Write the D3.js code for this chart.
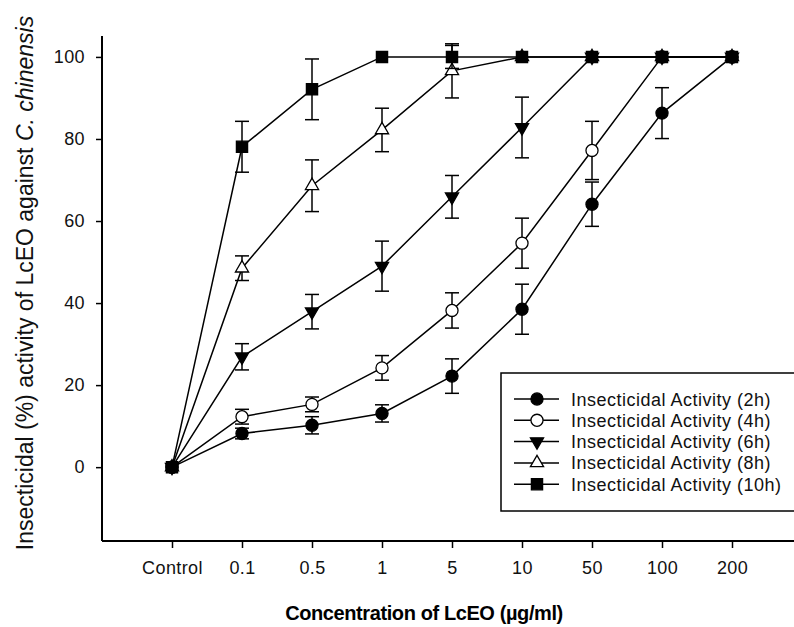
<!DOCTYPE html>
<html>
<head>
<meta charset="utf-8">
<script src="https://cdn.jsdelivr.net/npm/d3@7"></script>
<style>
  body { margin: 0; background: #fff; }
  text { font-family: "Liberation Sans", Arial, sans-serif; }
</style>
</head>
<body>
<div id="chart"></div>
<script>
// concentrations on the x axis
var categories = ["Control", "0.1", "0.5", "1", "5", "10", "50", "100", "200"];
var yTicks = [0, 20, 40, 60, 80, 100];

// insecticidal activity (%) and error bars
var act2h  = [0, 8.2, 10.2, 13.1, 22.2, 38.5, 64.1, 86.3, 100];
var err2h  = [0, 1.3, 2.1, 2.1, 4.2, 6.1, 5.4, 6.2, 0];
var act4h  = [0, 12.3, 15.3, 24.2, 38.2, 54.6, 77.2, 100, 100];
var err4h  = [0, 1.8, 1.8, 3.0, 4.3, 6.1, 7.1, 0, 0];
var act6h  = [0, 26.9, 37.9, 49.0, 65.9, 82.8, 100, 100, 100];
var err6h  = [0, 3.2, 4.2, 6.1, 5.2, 7.4, 0, 0, 0];
var act8h  = [0, 48.5, 68.6, 82.2, 96.6, 100, 100, 100, 100];
var err8h  = [0, 3.0, 6.3, 5.3, 6.6, 0, 0, 0, 0];
var act10h = [0, 78.1, 92.1, 100, 100, 100, 100, 100, 100];
var err10h = [0, 6.2, 7.4, 0, 2.8, 0, 0, 0, 0];

var seriesNames = ["Insecticidal Activity (2h)", "Insecticidal Activity (4h)", "Insecticidal Activity (6h)",
                   "Insecticidal Activity (8h)", "Insecticidal Activity (10h)"];

var series = [
  {name: seriesNames[0], vals: act2h,  errs: err2h,  shape: "circle",   fill: "#000"},
  {name: seriesNames[1], vals: act4h,  errs: err4h,  shape: "circle",   fill: "#fff"},
  {name: seriesNames[2], vals: act6h,  errs: err6h,  shape: "tridown",  fill: "#000"},
  {name: seriesNames[3], vals: act8h,  errs: err8h,  shape: "triup",    fill: "#fff"},
  {name: seriesNames[4], vals: act10h, errs: err10h, shape: "square",   fill: "#000"}
];

var width = 794, height = 627;
var plotLeft = 102, plotRight = 794, plotTop = 36, plotBottom = 541;

var svg = d3.select("#chart").append("svg")
    .attr("width", width)
    .attr("height", height);

var x = d3.scalePoint()
    .domain(categories)
    .range([172, 732]);

var y = d3.scaleLinear()
    .domain([-18, 105.1])
    .range([plotBottom, plotTop]);

// axes
var xAxis = svg.append("g")
    .attr("transform", "translate(0," + plotBottom + ")")
    .call(d3.axisBottom(x).tickSize(7).tickPadding(13));
xAxis.select(".domain").remove();
xAxis.selectAll("line").attr("stroke", "#000").attr("stroke-width", 1.5);
xAxis.selectAll("text").attr("font-size", 18).attr("fill", "#111")
    .attr("letter-spacing", "0.4px")
    .style("font-family", "Liberation Sans, Arial, sans-serif");

var yAxis = svg.append("g")
    .attr("transform", "translate(" + plotLeft + ",0)")
    .call(d3.axisLeft(y).tickValues(yTicks).tickSize(6).tickPadding(11));
yAxis.select(".domain").remove();
yAxis.selectAll("line").attr("stroke", "#000").attr("stroke-width", 1.5);
yAxis.selectAll("text").attr("font-size", 18).attr("fill", "#111")
    .attr("letter-spacing", "0.4px")
    .style("font-family", "Liberation Sans, Arial, sans-serif");

svg.append("line")
    .attr("x1", plotLeft).attr("x2", plotRight)
    .attr("y1", plotBottom).attr("y2", plotBottom)
    .attr("stroke", "#000").attr("stroke-width", 2);
svg.append("line")
    .attr("x1", plotLeft).attr("x2", plotLeft)
    .attr("y1", plotTop).attr("y2", plotBottom)
    .attr("stroke", "#000").attr("stroke-width", 2);

// axis titles
svg.append("text")
    .attr("x", 424).attr("y", 620)
    .attr("text-anchor", "middle")
    .attr("font-size", 20)
    .attr("font-weight", "bold")
    .attr("letter-spacing", "-0.4px")
    .text("Concentration of LcEO (µg/ml)");

var yt = svg.append("text")
    .attr("transform", "translate(33,283) rotate(-90)")
    .attr("text-anchor", "middle")
    .attr("font-size", 23)
    .attr("fill", "#111");
yt.append("tspan").text("Insecticidal (%) activity of LcEO against ");
yt.append("tspan").attr("font-style", "italic").text("C. chinensis");

function marker(g, shape, fill, cx, cy) {
  var sym;
  if (shape === "circle") sym = d3.symbol().type(d3.symbolCircle).size(115);
  else if (shape === "square") sym = d3.symbol().type(d3.symbolSquare).size(125);
  else sym = d3.symbol().type(d3.symbolTriangle).size(75);
  g.append("path")
    .attr("d", sym())
    .attr("transform", "translate(" + cx + "," + cy + ")" + (shape === "tridown" ? " rotate(180)" : ""))
    .attr("fill", fill)
    .attr("stroke", "#000")
    .attr("stroke-width", 1.3);
}

var line = d3.line()
    .x(function(d, i) { return x(categories[i]); })
    .y(function(d) { return y(d); });

series.forEach(function(s) {
  var g = svg.append("g");
  g.append("path")
    .attr("d", line(s.vals))
    .attr("fill", "none")
    .attr("stroke", "#000")
    .attr("stroke-width", 1.5);

  s.vals.forEach(function(v, i) {
    var e = s.errs[i];
    if (!e) return;
    var cx = x(categories[i]);
    g.append("line")
      .attr("x1", cx).attr("x2", cx)
      .attr("y1", y(v - e)).attr("y2", y(v + e))
      .attr("stroke", "#000").attr("stroke-width", 1.5);
    [v - e, v + e].forEach(function(c) {
      g.append("line")
        .attr("x1", cx - 7).attr("x2", cx + 7)
        .attr("y1", y(c)).attr("y2", y(c))
        .attr("stroke", "#000").attr("stroke-width", 1.5);
    });
  });

  s.vals.forEach(function(v, i) {
    marker(g, s.shape, s.fill, x(categories[i]), y(v));
  });
});

// legend
var legend = svg.append("g");
legend.append("rect")
    .attr("x", 501).attr("y", 373)
    .attr("width", 300).attr("height", 138)
    .attr("fill", "#fff")
    .attr("stroke", "#000")
    .attr("stroke-width", 1.5);

series.forEach(function(s, i) {
  var ly = 399 + i * 21.3;
  legend.append("line")
    .attr("x1", 514).attr("x2", 559)
    .attr("y1", ly).attr("y2", ly)
    .attr("stroke", "#000").attr("stroke-width", 1.5);
  marker(legend, s.shape, s.fill, 537, ly);
  legend.append("text")
    .attr("x", 571).attr("y", ly + 6.5)
    .attr("font-size", 18)
    .attr("letter-spacing", "0.5px")
    .attr("fill", "#111")
    .text(s.name);
});
</script>
</body>
</html>
